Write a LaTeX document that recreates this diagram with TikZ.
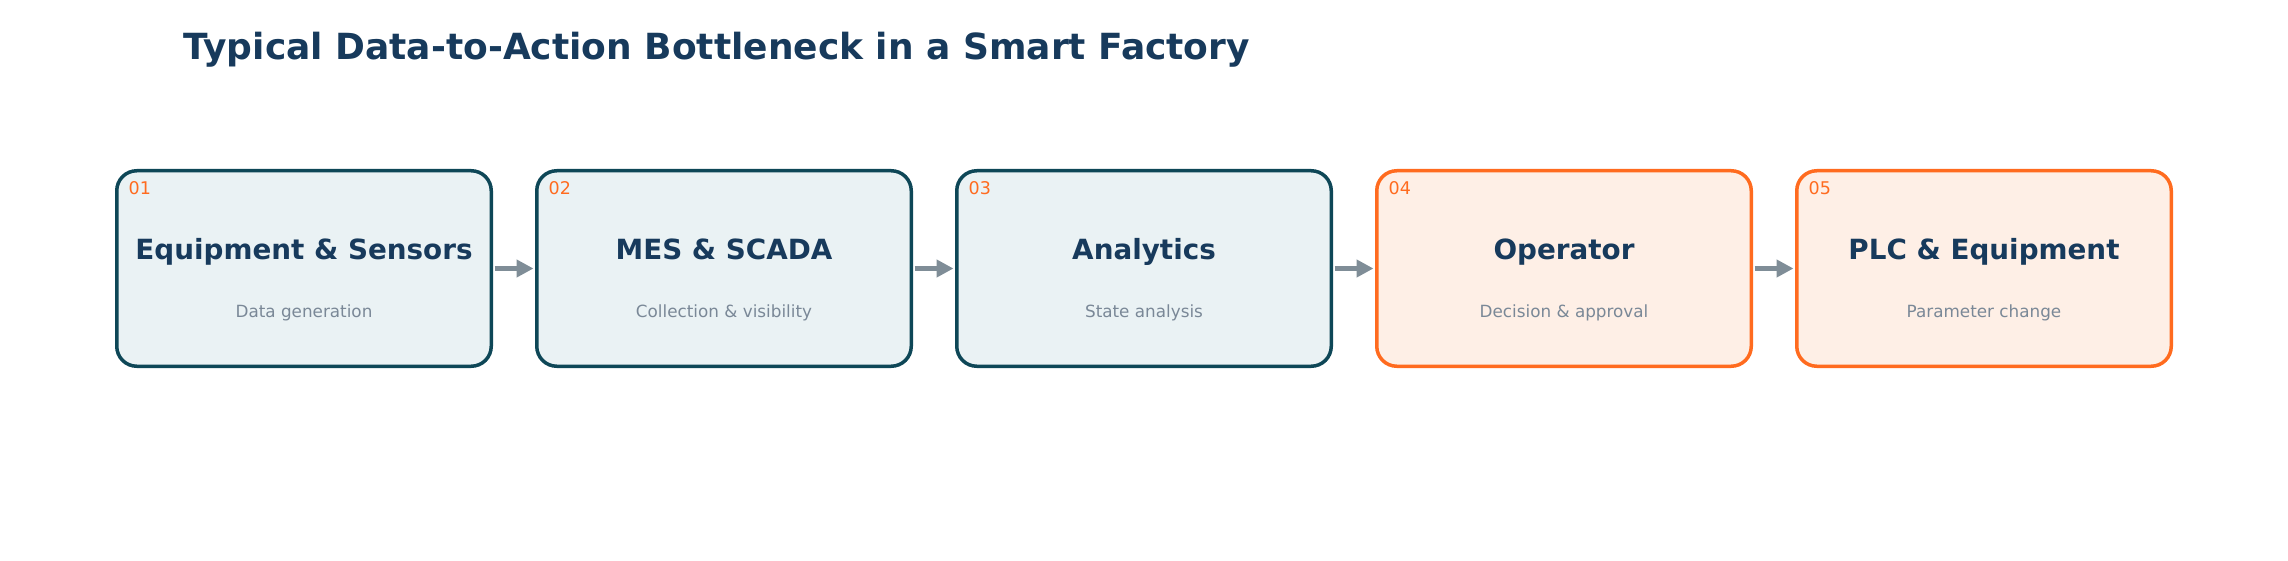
\documentclass[tikz,border=0pt]{standalone}
\usepackage{fontspec}
\setmainfont{DejaVu Sans}
\usetikzlibrary{arrows.meta,positioning}
\definecolor{navy}{HTML}{173A5C}
\definecolor{tealb}{HTML}{0E4757}
\definecolor{tealf}{HTML}{EAF2F4}
\definecolor{orab}{HTML}{FF6B1F}
\definecolor{oraf}{HTML}{FEEFE6}
\definecolor{subg}{HTML}{7A8897}
\definecolor{arrg}{HTML}{7F8D97}
\tikzset{
  x=1pt,y=1pt,
  stagebox/.style={rectangle, rounded corners=20pt, line width=3.5pt, inner sep=0pt,
    minimum width=374.5pt, minimum height=195.5pt},
  bluebox/.style={stagebox, draw=tealb, fill=tealf},
  orangebox/.style={stagebox, draw=orab, fill=oraf},
  numtxt/.style={anchor=base west, inner sep=0pt, text=orab, font=\fontsize{17.5}{20}\selectfont},
  headtxt/.style={anchor=base, inner sep=0pt, text=navy, font=\fontsize{27.8}{32}\selectfont\bfseries},
  subtxt/.style={anchor=base, inner sep=0pt, text=subg, font=\fontsize{16.8}{20}\selectfont},
  flow/.style={draw=arrg, line width=5pt, -{Triangle[length=17pt,width=17pt]},
    shorten <=1.5pt, shorten >=1.5pt},
}
\begin{document}
\begin{tikzpicture}
\useasboundingbox (0,0) rectangle (2288,-561);
\node[anchor=base west, inner sep=0pt, text=navy, font=\fontsize{36}{44}\selectfont\bfseries]
  (title) at (183,-60) {Typical Data-to-Action Bottleneck in a Smart Factory};
\foreach \i/\st/\h/\s [count=\k from 0] in {
  01/bluebox/{Equipment \& Sensors}/{Data generation},
  02/bluebox/{MES \& SCADA}/{Collection \& visibility},
  03/bluebox/{Analytics}/{State analysis},
  04/orangebox/{Operator}/{Decision \& approval},
  05/orangebox/{PLC \& Equipment}/{Parameter change}}{
  \node[\st] (b\i) at (304+420*\k,-268.5) {};
  \node[numtxt] (n\i) at ([xshift=13.5pt,yshift=-25.75pt]b\i.north west) {\i};
  \node[headtxt] (h\i) at ([yshift=8.5pt]b\i.center) {\h};
  \node[subtxt] (s\i) at ([yshift=-49pt]b\i.center) {\s};
}
\draw[flow] (b01.east) -- (b02.west);
\draw[flow] (b02.east) -- (b03.west);
\draw[flow] (b03.east) -- (b04.west);
\draw[flow] (b04.east) -- (b05.west);
\end{tikzpicture}
\end{document}
